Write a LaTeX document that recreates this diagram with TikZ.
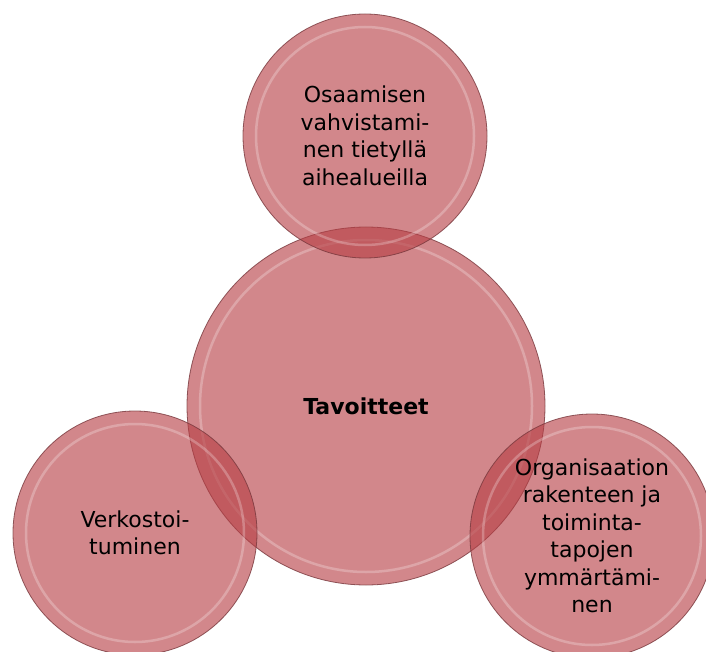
\documentclass[tikz,border=0pt]{standalone}
\usepackage{fontspec}
\setmainfont{DejaVu Sans}
\usepackage{tikz}

\definecolor{bubblefill}{RGB}{182,62,68}
\definecolor{bubbleedge}{RGB}{120,55,60}

\tikzset{
  bubble/.style={circle, inner sep=0pt, minimum size=244pt, align=center,
    fill=bubblefill, fill opacity=0.62, text opacity=1,
    draw=bubbleedge, draw opacity=0.8, line width=0.8pt,
    font=\fontsize{22}{27.5}\selectfont},
  bigbubble/.style={bubble, minimum size=358pt, font=\fontsize{22}{27.5}\selectfont\bfseries},
  ring/.style={draw=white, draw opacity=0.25, line width=2.5pt}
}

\begin{document}
\begin{tikzpicture}[x=1pt,y=-1pt]
    \useasboundingbox (0,0) rectangle (706,652);

    % Centre circle
    \node[bigbubble] (goal) at (366,406) {Tavoitteet};
    \draw[ring] (goal.center) circle (166pt);

    % Outer circles
    \node[bubble] (skills) at (365,136) {Osaamisen\\vahvistami-\\nen tietyllä\\aihealueilla};
    \draw[ring] (skills.center) circle (109pt);

    \node[bubble] (network) at (135,533) {Verkostoi-\\tuminen};
    \draw[ring] (network.center) circle (109pt);

    \node[bubble] (org) at (592,536) {Organisaation\\rakenteen ja\\toiminta-\\tapojen\\ymmärtämi-\\nen};
    \draw[ring] (org.center) circle (109pt);
\end{tikzpicture}
\end{document}
